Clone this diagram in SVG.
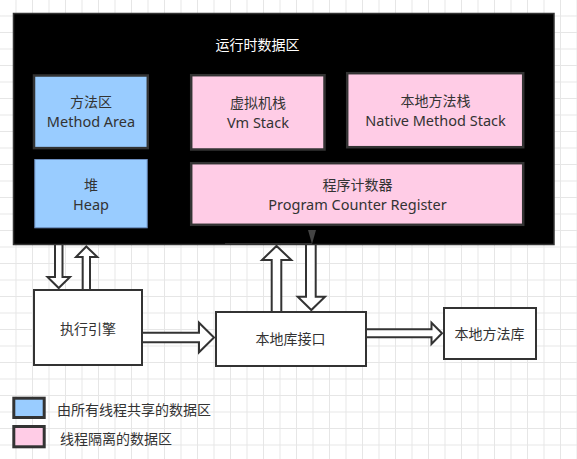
<svg xmlns="http://www.w3.org/2000/svg" width="577" height="459" viewBox="0 0 577 459">
<style>
.t{font-family:"Noto Sans","Noto Sans CJK SC",sans-serif;fill:#333;text-anchor:middle;dominant-baseline:central}
.cn{font-size:14px}
.en{font-size:14.5px}
.box{stroke:#333;stroke-width:2.5}
.arr{fill:#fff;stroke:#333;stroke-width:2;stroke-linejoin:miter}
.blue{fill:#99CCFF}
.pink{fill:#FFCCE6}
</style>
<defs>
<pattern id="grid" x="15.5" y="15.5" width="16.5" height="16.5" patternUnits="userSpaceOnUse">
<path d="M0.5 0V16.5M0 0.5H16.5" stroke="#e6e6e6" stroke-width="1" fill="none"/>
</pattern>
</defs>
<rect width="577" height="459" fill="#fff"/>
<rect width="577" height="459" fill="url(#grid)"/>

<g id="connectors">
<polygon class="arr" points="55,240 62.5,240 62.5,277 70,277 58.7,288 47.5,277 55,277"/>
<polygon class="arr" points="82.7,292 90,292 90,257 97.3,257 86.3,246.5 76,257 82.7,257"/>
<polygon class="arr" points="271.7,314 281.3,314 281.3,260 291.3,260 276.5,246 262,260 271.7,260"/>
<polygon class="arr" points="306,240 315.7,240 315.7,296.7 325,296.7 311.3,310 297.7,296.7 306,296.7"/>
<polygon class="arr" points="140,332.7 199,332.7 199,322.7 214,337.5 199,352.3 199,342.3 140,342.3"/>
<polygon class="arr" points="364,329.3 431.5,329.3 431.5,322.7 442,333.3 431.5,344 431.5,337.3 364,337.3"/>
</g>

<g id="runtime-data-area">
<rect x="13.5" y="13.5" width="540.5" height="231" fill="#000" stroke="#333" stroke-width="1.5"/>
<text class="t cn" x="257.5" y="44.3" style="fill:#fff">运行时数据区</text>
<line x1="225" y1="243.5" x2="312" y2="243.5" stroke="#333" stroke-width="1"/>
<polygon points="308,230 316,230 312,244" fill="#444"/>
</g>

<g id="method-area">
<rect class="box blue" x="34" y="75.5" width="113.8" height="72.6"/>
<text class="t cn" x="91" y="101.5">方法区</text>
<text class="t en" x="91" y="121.2">Method Area</text>
</g>

<g id="heap">
<rect class="blue" x="34.8" y="159.5" width="112.4" height="68.3" stroke="#6c8ebf" stroke-width="1"/>
<text class="t cn" x="91" y="184">堆</text>
<text class="t en" x="91" y="203.7">Heap</text>
</g>

<g id="vm-stack">
<rect class="box pink" x="191.2" y="75.2" width="133.3" height="74.3"/>
<text class="t cn" x="258" y="102.5">虚拟机栈</text>
<text class="t en" x="258" y="122.2">Vm Stack</text>
</g>

<g id="native-method-stack">
<rect class="box pink" x="347.2" y="73.2" width="176" height="74"/>
<text class="t cn" x="435.5" y="100.5">本地方法栈</text>
<text class="t en" x="435.5" y="120.2">Native Method Stack</text>
</g>

<g id="program-counter">
<rect class="box pink" x="191.2" y="163.2" width="332" height="61.6"/>
<text class="t cn" x="357.5" y="184">程序计数器</text>
<text class="t en" x="357.5" y="203.7">Program Counter Register</text>
</g>

<g id="execution-engine">
<rect x="34" y="290" width="108" height="75" fill="#fff" stroke="#333" stroke-width="2"/>
<text class="t cn" x="88" y="328.3">执行引擎</text>
</g>

<g id="native-interface">
<rect x="216" y="312" width="150" height="54" fill="#fff" stroke="#333" stroke-width="2"/>
<text class="t cn" x="290.5" y="338.3">本地库接口</text>
</g>

<g id="native-library">
<rect x="444" y="308" width="92" height="51" fill="#fff" stroke="#333" stroke-width="2"/>
<text class="t cn" x="489.5" y="333.3">本地方法库</text>
</g>

<g id="legend-shared">
<rect class="blue" x="13.8" y="398.2" width="30.4" height="19.3" stroke="#333" stroke-width="3"/>
<text class="t cn" x="57" y="409" style="text-anchor:start">由所有线程共享的数据区</text>
</g>
<g id="legend-private">
<rect class="pink" x="13.8" y="426.5" width="30.4" height="20.3" stroke="#333" stroke-width="3"/>
<text class="t cn" x="60" y="438" style="text-anchor:start">线程隔离的数据区</text>
</g>
</svg>
